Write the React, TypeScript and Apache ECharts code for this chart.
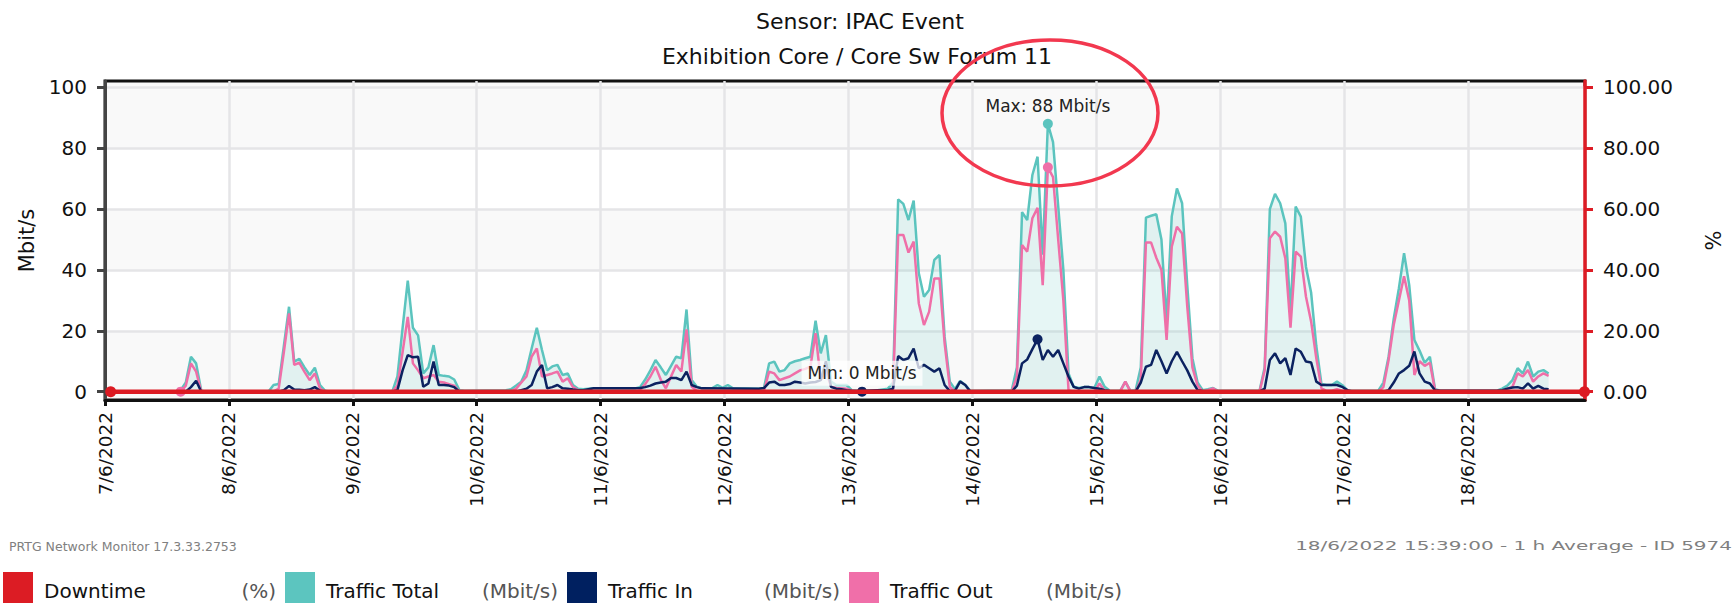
import React, { useEffect, useRef } from "react";
import * as echarts from "echarts";

const FONT = '"DejaVu Sans", Verdana, sans-serif';

const TITLE_1 = "Sensor: IPAC Event";
const TITLE_2 = "Exhibition Core / Core Sw Forum 11";
const FOOTER_LEFT = "PRTG Network Monitor 17.3.33.2753";
const FOOTER_RIGHT = "18/6/2022 15:39:00 - 1 h Average - ID 5974";

const DAY_LABELS = [
  "7/6/2022", "8/6/2022", "9/6/2022", "10/6/2022", "11/6/2022", "12/6/2022",
  "13/6/2022", "14/6/2022", "15/6/2022", "16/6/2022", "17/6/2022", "18/6/2022",
];
const Y_TICKS = [0, 20, 40, 60, 80, 100];

// hours since 7/6/2022 00:00 ; samples are 1 h averages stamped at hh:39 of the previous hour
const SAMPLE_OFFSET = -21 / 60;
const X_MAX = 286.7;

// [hour, Mbit/s] vertices
const TOTAL: [number, number][] = [
  [1, 0], [14, 0], [15, 0.5], [16, 3], [17, 11.5], [18, 9.3], [19, 0.3], [20, 0],
  [32, 0], [33, 2.2], [34, 2.5], [35, 15], [36, 27.9], [37, 9.9], [38, 10.8], [39, 8], [40, 5.5], [41, 7.9], [42, 2.2], [43, 0.3], [44, 0],
  [56, 0], [57, 5], [58, 21], [59, 36.5], [60, 21], [61, 18.5], [62, 6], [63, 8], [64, 15.3], [65, 5.5], [66, 5.2], [67, 5], [68, 4], [69, 0.5], [70, 0.3],
  [78, 0.5], [79, 0.8], [80, 2], [81, 3.3], [82, 7], [83, 14.2], [84, 21], [85, 13.7], [86, 7], [87, 8.3], [88, 8.8], [89, 5.5], [90, 6], [91, 2.2], [92, 1], [93, 0.8], [94, 1], [95, 1.1],
  [103, 1.1], [104, 1.5], [105, 4], [106, 7], [107, 10.4], [108, 8], [109, 5.5], [110, 8.5], [111, 11.5], [112, 11], [113, 27], [114, 3.8], [115, 1.6], [116, 1.1],
  [118, 1.2], [119, 2.2], [120, 1.3], [121, 2.2], [122, 1.1], [127, 1],
  [128, 1.2], [129, 9.3], [130, 9.9], [131, 6.6], [132, 7.1], [133, 9.3], [134, 10], [135, 10.4], [136, 11], [137, 11.5], [138, 23.3], [139, 12.6], [140, 18.6], [141, 3.3], [142, 2.2], [143, 2.2], [144, 2.2], [145, 0.5], [146, 0.3], [147, 0.3], [150, 0.5],
  [152, 1], [153, 3], [154, 63.2], [155, 61.7], [156, 56.4], [157, 62.8], [158, 38.9], [159, 31.2], [160, 33.4], [161, 43.3], [162, 44.9], [163, 18], [164, 3.3], [165, 0.8], [166, 3.5], [167, 2.2], [168, 0.3],
  [176, 0.5], [177, 8], [178, 59], [179, 56.4], [180, 71.2], [181, 77.2], [182, 45], [183, 88], [184, 82], [185, 61], [186, 40], [187, 6], [188, 1.6], [189, 1.2], [190, 1.5], [191, 1.5], [192, 1.2], [193, 5], [194, 1.6], [195, 0.3], [197, 0.3], [198, 3.3], [199, 0.3], [200, 0.5],
  [201, 8], [202, 57.2], [203, 57.8], [204, 58.3], [205, 50], [206, 23], [207, 57.6], [208, 66.8], [209, 61.9], [210, 35], [211, 11], [212, 3], [213, 0.5], [214, 0.8], [215, 1.2], [216, 0.3],
  [224, 0.3], [225, 8], [226, 60], [227, 65], [228, 61.9], [229, 55.3], [230, 26], [231, 60.8], [232, 57.5], [233, 41], [234, 32.5], [235, 15], [236, 2.5], [237, 2.2], [238, 2.2], [239, 3.3], [240, 2.2], [241, 0.5], [242, 0.3],
  [247, 0.3], [248, 3], [249, 11.5], [250, 24], [251, 34], [252, 45.5], [253, 35], [254, 17], [255, 13.5], [256, 9.5], [257, 11.5], [258, 0.8], [259, 0.3],
  [270, 0.3], [271, 1], [272, 2], [273, 3.8], [274, 7.7], [275, 6], [276, 9.9], [277, 5], [278, 6.6], [279, 7.1], [280, 6],
];

const OUT: [number, number][] = [
  [1, 0], [15, 0], [16, 2], [17, 9.3], [18, 6.6], [19, 0],
  [33, 0], [34, 1], [35, 13], [36, 25.7], [37, 8.8], [38, 9.5], [39, 6.5], [40, 3.8], [41, 6], [42, 1], [43, 0],
  [56, 0], [57, 2], [58, 13], [59, 24.6], [60, 9.3], [61, 7], [62, 4.4], [63, 5], [64, 5.5], [65, 3.3], [66, 3], [67, 2.5], [68, 2], [69, 0],
  [79, 0], [80, 1], [81, 3], [82, 5], [83, 11.5], [84, 14.2], [85, 5], [86, 5.5], [87, 6], [88, 6.6], [89, 3.3], [90, 4.4], [91, 1.5], [92, 0.5], [93, 0],
  [103, 0], [104, 0.5], [105, 2.5], [106, 5], [107, 8.2], [108, 4], [109, 1.1], [110, 5], [111, 8.8], [112, 6.6], [113, 20.5], [114, 1.6], [115, 0.3], [116, 0],
  [127, 0], [128, 0.3], [129, 6.6], [130, 6], [131, 3.8], [132, 4.4], [133, 5], [134, 6], [135, 7], [136, 7.5], [137, 8.2], [138, 19.2], [139, 3.8], [140, 7], [141, 1.6], [142, 1.2], [143, 1.1], [144, 1], [145, 0.3], [146, 0],
  [153, 0.5], [154, 51.5], [155, 51.5], [156, 45.7], [157, 49.3], [158, 29], [159, 21.9], [160, 26.3], [161, 37.2], [162, 37.2], [163, 15.9], [164, 1.6], [165, 0],
  [176, 0], [177, 5], [178, 48.2], [179, 46], [180, 57], [181, 60.4], [182, 35], [183, 73.7], [184, 70.5], [185, 50], [186, 30], [187, 0.5], [188, 0],
  [192, 0], [193, 2.7], [194, 0.3], [195, 0], [197, 0], [198, 3.3], [199, 0], [200, 0],
  [201, 3.8], [202, 49], [203, 49], [204, 44], [205, 40], [206, 17], [207, 47.6], [208, 54.2], [209, 52], [210, 28], [211, 8], [212, 2], [213, 0], [214, 0.5], [215, 1.1], [216, 0],
  [224, 0], [225, 7], [226, 50.4], [227, 52.6], [228, 50.9], [229, 43.8], [230, 21], [231, 46], [232, 44.4], [233, 31.2], [234, 23], [235, 11], [236, 1.1], [237, 0.3], [238, 0.3], [239, 0.8], [240, 0.3], [241, 0],
  [247, 0], [248, 1.5], [249, 10.4], [250, 22], [251, 30], [252, 37.9], [253, 30], [254, 5.5], [255, 10], [256, 8.5], [257, 9.5], [258, 0.5], [259, 0],
  [271, 0], [272, 1], [273, 1.6], [274, 6], [275, 5], [276, 7.1], [277, 3.3], [278, 5], [279, 6], [280, 5.2],
];

const IN: [number, number][] = [
  [1, 0], [16, 0], [17, 1.5], [18, 3.6], [19, 0],
  [34, 0], [35, 0.5], [36, 1.9], [37, 0.7], [38, 0.6], [39, 0.5], [40, 0.7], [41, 1.5], [42, 0.3], [43, 0],
  [56, 0], [57, 0.5], [58, 7], [59, 12], [60, 11.3], [61, 11.5], [62, 1.6], [63, 2.7], [64, 9.9], [65, 2.2], [66, 2.2], [67, 2], [68, 1.5], [69, 0],
  [80, 0], [81, 0.5], [82, 1], [83, 2.2], [84, 6.6], [85, 8.8], [86, 1.1], [87, 1.5], [88, 2.2], [89, 1.1], [90, 1], [91, 0.7], [92, 0.5], [93, 0.5], [94, 0.8], [95, 1.1],
  [103, 1.1], [104, 1.2], [105, 1.5], [106, 2], [107, 2.7], [108, 3], [109, 3.3], [110, 4.5], [111, 4.5], [112, 3.8], [113, 6.6], [114, 2.2], [115, 1.5], [116, 1.1],
  [127, 1], [128, 1.2], [129, 3], [130, 3.3], [131, 2.2], [132, 2.2], [133, 2.5], [134, 3.3], [135, 3], [136, 2.7], [137, 3], [138, 3.2], [139, 3.8], [140, 10], [141, 1.6], [142, 1], [143, 0.8], [144, 0.5], [145, 0.3], [146, 0.2], [147, 0], [148, 0.3], [150, 0.5],
  [152, 0.5], [153, 1], [154, 11.7], [155, 10.4], [156, 11], [157, 14.2], [158, 7.7], [159, 8.8], [160, 7.7], [161, 6.6], [162, 7.7], [163, 2.2], [164, 0.2], [165, 0.3], [166, 3.3], [167, 2.2], [168, 0],
  [176, 0], [177, 2], [178, 9.3], [179, 10.6], [180, 14], [181, 17.2], [182, 10.4], [183, 13.7], [184, 11.5], [185, 13.7], [186, 9.3], [187, 5], [188, 1.6], [189, 1], [190, 1.5], [191, 1.5], [192, 1.2], [193, 1], [194, 0.5], [195, 0.2], [200, 0],
  [201, 3], [202, 8.2], [203, 8.8], [204, 13.7], [205, 10], [206, 6], [207, 10], [208, 13.1], [209, 10], [210, 7], [211, 3.3], [212, 0.5], [213, 0.2], [216, 0],
  [224, 0], [225, 1], [226, 10.4], [227, 12.6], [228, 9.3], [229, 11], [230, 5.5], [231, 14.2], [232, 13.1], [233, 9.9], [234, 9.6], [235, 3.3], [236, 2.2], [237, 2.2], [238, 2.2], [239, 2.2], [240, 1.6], [241, 0.5], [242, 0],
  [248, 0], [249, 0.5], [250, 3], [251, 6], [252, 7.1], [253, 8.5], [254, 13.2], [255, 6], [256, 3.3], [257, 2.7], [258, 0.5], [259, 0.3],
  [270, 0.3], [271, 0.5], [272, 1], [273, 1.4], [274, 1.5], [275, 1], [276, 2.7], [277, 1], [278, 1.9], [279, 1], [280, 0.8],
];

// Downtime (%) : hours of first/last sample, value 0
const DOWNTIME: [number, number][] = [[1.1, 0], [286.6, 0]];

const OUT_MIN_AT = 15; // hour label of the Traffic Out min marker
const IN_MIN_AT = 147; // hour label of the Traffic In min marker ("Min: 0 Mbit/s")

const C_TOTAL = "#5bc4be";
const C_IN = "#0b2260";
const C_OUT = "#ef6fa8";
const C_DOWN = "#dc1a22";

const LEGEND = [
  { color: "#dc1c24", name: "Downtime", unit: "(%)" },
  { color: "#5cc5bf", name: "Traffic Total", unit: "(Mbit/s)" },
  { color: "#002060", name: "Traffic In", unit: "(Mbit/s)" },
  { color: "#f06fa9", name: "Traffic Out", unit: "(Mbit/s)" },
];

const toXY = (pts: [number, number][]) => pts.map(([h, v]) => [h + SAMPLE_OFFSET, v]);

export default function App() {
  const ref = useRef<HTMLDivElement>(null);
  useEffect(() => {
    if (!ref.current) return;
    const chart = echarts.init(ref.current, null, { renderer: "svg" });

    const legendGraphics: any[] = [];
    LEGEND.forEach((l, i) => {
      const x0 = 3 + i * 282;
      legendGraphics.push({ type: "rect", shape: { x: x0, y: 572, width: 30, height: 31 }, style: { fill: l.color } });
      legendGraphics.push({ type: "text", x: x0 + 41, y: 591, style: { text: l.name, font: `20px ${FONT}`, fill: "#111", textVerticalAlign: "middle" } });
      legendGraphics.push({ type: "text", x: x0 + 273, y: 591, style: { text: l.unit, font: `20px ${FONT}`, fill: "#555", textAlign: "right", textVerticalAlign: "middle" } });
    });

    const yAxisBase = {
      type: "value",
      min: -2.73,
      max: 102.07,
      axisTick: { show: true, length: 8, customValues: Y_TICKS },
    };

    chart.setOption({
      animation: false,
      backgroundColor: "#ffffff",
      grid: {
        left: 105, right: 140, top: 81, bottom: 203,
        show: true, backgroundColor: "#f9f9f9", borderColor: "#111", borderWidth: 3,
      },
      xAxis: {
        type: "value", min: 0, max: X_MAX, interval: 24,
        axisLine: { show: true, onZero: false, lineStyle: { color: "#111", width: 3 } },
        axisTick: { show: true, length: 6, lineStyle: { color: "#111", width: 3 } },
        axisLabel: {
          rotate: 90, margin: 12, fontSize: 18.5, color: "#111", fontFamily: FONT, showMaxLabel: false,
          formatter: (v: number) => DAY_LABELS[Math.round(v / 24)] ?? "",
        },
        splitLine: { show: true, lineStyle: { color: "#e5e5e7", width: 2.5 } },
      },
      yAxis: [
        {
          ...yAxisBase,
          position: "left",
          axisLine: { show: true, lineStyle: { color: "#444", width: 3 } },
          axisTick: { ...yAxisBase.axisTick, lineStyle: { color: "#444", width: 3 } },
          axisLabel: { customValues: Y_TICKS, fontSize: 20, color: "#111", fontFamily: FONT, margin: 18 },
          splitLine: { show: true, lineStyle: { color: "#e5e5e7", width: 2.5 } },
          splitArea: { show: true, areaStyle: { color: ["#f9f9f9", "#ffffff"] } },
          name: "Mbit/s", nameLocation: "middle", nameGap: 68, nameRotate: 90,
          nameTextStyle: { fontSize: 21, color: "#111", fontFamily: FONT },
        },
        {
          ...yAxisBase,
          position: "right",
          axisLine: { show: true, lineStyle: { color: "#dd1c25", width: 3.5 } },
          axisTick: { ...yAxisBase.axisTick, lineStyle: { color: "#dd1c25", width: 3 } },
          axisLabel: {
            customValues: Y_TICKS, fontSize: 20, color: "#111", fontFamily: FONT, margin: 18,
            formatter: (v: number) => v.toFixed(2),
          },
          splitLine: { show: false },
          name: "%", nameLocation: "middle", nameGap: 118, nameRotate: 90,
          nameTextStyle: { fontSize: 21, color: "#111", fontFamily: FONT },
        },
      ],
      series: [
        {
          name: "Traffic Total", type: "line", data: toXY(TOTAL), showSymbol: false, symbol: "none",
          lineStyle: { color: C_TOTAL, width: 2.5 }, itemStyle: { color: C_TOTAL },
          areaStyle: { color: "rgba(92,197,191,0.22)" }, z: 2,
          markPoint: {
            symbol: "circle", symbolSize: 10, itemStyle: { color: C_TOTAL },
            data: [{ type: "max" }],
            label: {
              show: true, position: "top", distance: 4, fontSize: 17, color: "#222", fontFamily: FONT,
              formatter: (p: any) => `Max: ${Math.round(Array.isArray(p.value) ? p.value[1] : p.value)} Mbit/s`,
            },
          },
        },
        {
          name: "Traffic Out", type: "line", data: toXY(OUT), showSymbol: false, symbol: "none",
          lineStyle: { color: C_OUT, width: 2.5 }, itemStyle: { color: C_OUT }, z: 3,
          markPoint: {
            symbol: "circle", symbolSize: 10, itemStyle: { color: C_OUT }, label: { show: false },
            data: [{ type: "max" }, { coord: [OUT_MIN_AT + SAMPLE_OFFSET, 0], value: 0 }],
          },
        },
        {
          name: "Traffic In", type: "line", data: toXY(IN), showSymbol: false, symbol: "none",
          lineStyle: { color: C_IN, width: 2.5 }, itemStyle: { color: C_IN }, z: 4,
          markPoint: {
            symbol: "circle", symbolSize: 10, itemStyle: { color: C_IN },
            data: [
              { type: "max", label: { show: false } },
              {
                coord: [IN_MIN_AT + SAMPLE_OFFSET, 0], value: 0,
                label: {
                  show: true, position: "top", distance: 1, fontSize: 17, color: "#222", fontFamily: FONT,
                  backgroundColor: "rgba(255,255,255,0.75)", padding: [4, 6],
                  formatter: () => "Min: 0 Mbit/s",
                },
              },
            ],
          },
        },
        {
          name: "Downtime", type: "line", yAxisIndex: 1, data: DOWNTIME,
          symbol: "circle", symbolSize: 11, showSymbol: true,
          lineStyle: { color: C_DOWN, width: 4.5 }, itemStyle: { color: C_DOWN }, z: 5,
        },
      ],
      graphic: [
        { type: "text", x: 860, y: 21, style: { text: TITLE_1, font: `22px ${FONT}`, fill: "#111", textAlign: "center", textVerticalAlign: "middle" } },
        { type: "text", x: 857, y: 56, style: { text: TITLE_2, font: `22px ${FONT}`, fill: "#111", textAlign: "center", textVerticalAlign: "middle" } },
        { type: "ellipse", shape: { cx: 1050, cy: 113, rx: 108, ry: 73 }, style: { fill: "none", stroke: "#f2384f", lineWidth: 3.5 }, z: 100 },
        { type: "text", x: 9, y: 546, style: { text: FOOTER_LEFT, font: `12.5px ${FONT}`, fill: "#808080", textVerticalAlign: "middle" } },
        { type: "text", x: 1732, y: 546, scaleX: 1.6, style: { text: FOOTER_RIGHT, font: `12.5px ${FONT}`, fill: "#808080", textAlign: "right", textVerticalAlign: "middle" } },
        ...legendGraphics,
      ],
    });
    return () => chart.dispose();
  }, []);
  return <div ref={ref} style={{ width: 1732, height: 603, position: "absolute", left: 0, top: 0 }} />;
}
